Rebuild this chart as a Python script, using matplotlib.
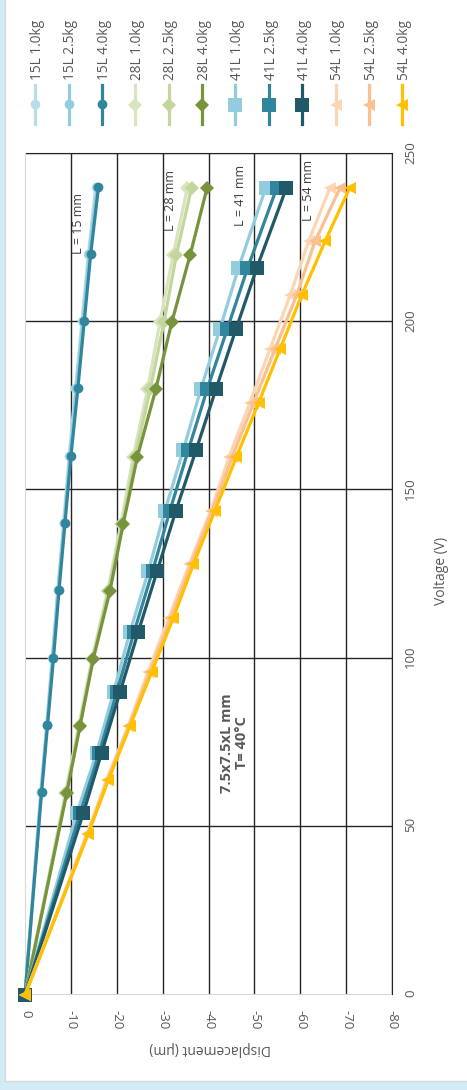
import numpy as np
import matplotlib
matplotlib.use('Agg')
import matplotlib.pyplot as plt
from matplotlib.patches import Rectangle

plt.rcParams['font.family'] = ['Open Sans', 'DejaVu Sans']
plt.rcParams['axes.unicode_minus'] = False

# voltage steps of each family
volts_15 = [0, 60, 80, 100, 120, 140, 160, 180, 200, 220, 240]
volts_28 = [0, 60, 80, 100, 120, 140, 160, 180, 200, 220, 240]
volts_41 = [0, 54, 72, 90, 108, 126, 144, 162, 180, 198, 216, 240]
volts_54 = [0, 48, 64, 80, 96, 112, 128, 144, 160, 176, 192, 208, 224, 240]

# displacement (um)
d15_10 = [0, -3.4, -4.7, -5.9, -7.1, -8.4, -9.6, -11.0, -12.4, -13.8, -15.4]
d15_25 = [0, -3.5, -4.8, -6.0, -7.2, -8.5, -9.8, -11.2, -12.6, -14.0, -15.7]
d15_40 = [0, -3.6, -4.9, -6.2, -7.4, -8.7, -10.0, -11.5, -12.9, -14.3, -16.0]

d28_10 = [0, -8.8, -11.7, -14.6, -18.0, -20.9, -23.6, -26.7, -29.4, -32.3, -35.4]
d28_25 = [0, -9.0, -11.9, -14.8, -18.2, -21.2, -24.0, -27.3, -30.3, -33.0, -36.3]
d28_40 = [0, -9.1, -12.0, -14.9, -18.5, -21.4, -24.5, -28.5, -32.0, -36.0, -39.7]

d41_10 = [0, -11.3, -15.6, -19.3, -22.9, -26.9, -30.5, -34.5, -38.3, -42.5, -46.5, -52.5]
d41_25 = [0, -12.0, -16.2, -20.0, -23.8, -27.8, -31.6, -35.6, -39.7, -44.1, -48.5, -54.9]
d41_40 = [0, -12.7, -16.7, -20.7, -24.7, -28.8, -32.9, -37.3, -41.6, -46.0, -50.5, -57.0]

d54_10 = [0, -13.5, -17.8, -22.5, -26.8, -31.3, -35.8, -40.5, -44.5, -49.0, -53.4, -57.8, -61.8, -66.5]
d54_25 = [0, -13.7, -18.0, -22.7, -27.2, -31.8, -36.2, -40.8, -45.2, -49.8, -54.5, -59.2, -63.2, -68.7]
d54_40 = [0, -13.8, -18.2, -22.9, -27.6, -32.3, -36.7, -41.4, -46.1, -50.9, -55.6, -60.3, -65.4, -70.8]

labels = ['15L 1.0kg', '15L 2.5kg', '15L 4.0kg',
          '28L 1.0kg', '28L 2.5kg', '28L 4.0kg',
          '41L 1.0kg', '41L 2.5kg', '41L 4.0kg',
          '54L 1.0kg', '54L 2.5kg', '54L 4.0kg']
series_x = [volts_15] * 3 + [volts_28] * 3 + [volts_41] * 3 + [volts_54] * 3
series_y = [d15_10, d15_25, d15_40, d28_10, d28_25, d28_40,
            d41_10, d41_25, d41_40, d54_10, d54_25, d54_40]
colors = ['#b7dee8', '#92cddc', '#31859c',
          '#d7e4bd', '#c3d69b', '#77933c',
          '#93cddd', '#31859c', '#215968',
          '#fcd5b5', '#fac090', '#ffc000']
markers = ['o'] * 3 + ['D'] * 3 + ['s'] * 3 + ['^'] * 3
msizes = [7] * 3 + [7.5] * 3 + [9.5] * 3 + [9] * 3

v_ticks = [0, 50, 100, 150, 200, 250]
d_ticks = [0, -10, -20, -30, -40, -50, -60, -70, -80]

tick_col = '#595959'
grid_col = '#262626'

# chart is drawn landscape, then turned a quarter turn
W, H = 1090, 467
fig = plt.figure(figsize=(W / 100, H / 100), dpi=100, facecolor='#d3ebf7')
fig.add_artist(Rectangle((8 / W, -0.05), 1.1, (H - 5) / H + 0.05, transform=fig.transFigure,
                         facecolor='white', edgecolor='#d9d9d9', lw=1, zorder=0))

ax = fig.add_axes([95 / W, 1 - 392 / H, (936 - 95) / W, (392 - 25) / H])
ax.set_facecolor('white')
ax.set_xlim(0, 250)
ax.set_ylim(-80, 0)
ax.set_xticks(v_ticks)
ax.set_yticks(d_ticks)
for v in v_ticks[1:]:
    ax.axvline(v, color=grid_col, lw=1.0, zorder=1)
for d in d_ticks[1:]:
    ax.axhline(d, color=grid_col, lw=1.0, zorder=1)
ax.spines['top'].set_color('#d9d9d9')
ax.spines['left'].set_color('#d9d9d9')
ax.spines['right'].set_color(grid_col)
ax.spines['bottom'].set_color(grid_col)
ax.tick_params(length=0, labelsize=9.5, labelcolor=tick_col)
ax.tick_params(axis='x', pad=9)
ax.tick_params(axis='y', pad=12)
for lab in ax.get_yticklabels():
    lab.set_rotation(180)
    lab.set_va('center')

handles = []
for xs, ys, c, m, ms, lab in zip(series_x, series_y, colors, markers, msizes, labels):
    h, = ax.plot(xs, ys, color=c, lw=2.3, marker=m, markersize=ms,
                 markeredgewidth=0, label=lab, clip_on=False, zorder=3)
    handles.append(h)

ann_col = '#404040'
ax.text(229, -11.5, 'L = 15 mm', ha='center', va='center', fontsize=9, color=ann_col)
ax.text(236, -31.6, 'L = 28 mm', ha='center', va='center', fontsize=9, color=ann_col)
ax.text(237.5, -46.8, 'L = 41 mm', ha='center', va='center', fontsize=9, color=ann_col)
ax.text(239, -61.6, 'L = 54 mm', ha='center', va='center', fontsize=9, color=ann_col)
ax.text(74.6, -45.4, '7.5x7.5xL mm\nT= 40°C', ha='center', va='center', fontsize=10.5,
        fontweight='bold', color=tick_col, linespacing=1.05)

fig.text(41 / W, 1 - 209 / H, 'Displacement (μm)', rotation=90, ha='center', va='center',
         fontsize=10, color=tick_col)
fig.text(518 / W, 1 - 441 / H, 'Voltage (V)', ha='center', va='center',
         fontsize=10, color=tick_col)

fig.legend(handles, labels, loc='center left', bbox_to_anchor=(965 / W, 1 - 220 / H),
           frameon=False, borderpad=0, borderaxespad=0, handlelength=2.9,
           handletextpad=0.35, labelspacing=1.35, fontsize=9.8, labelcolor=tick_col)

fig.canvas.draw()
img = np.asarray(fig.canvas.buffer_rgba())
plt.imsave('out.png', np.ascontiguousarray(np.rot90(img)))
